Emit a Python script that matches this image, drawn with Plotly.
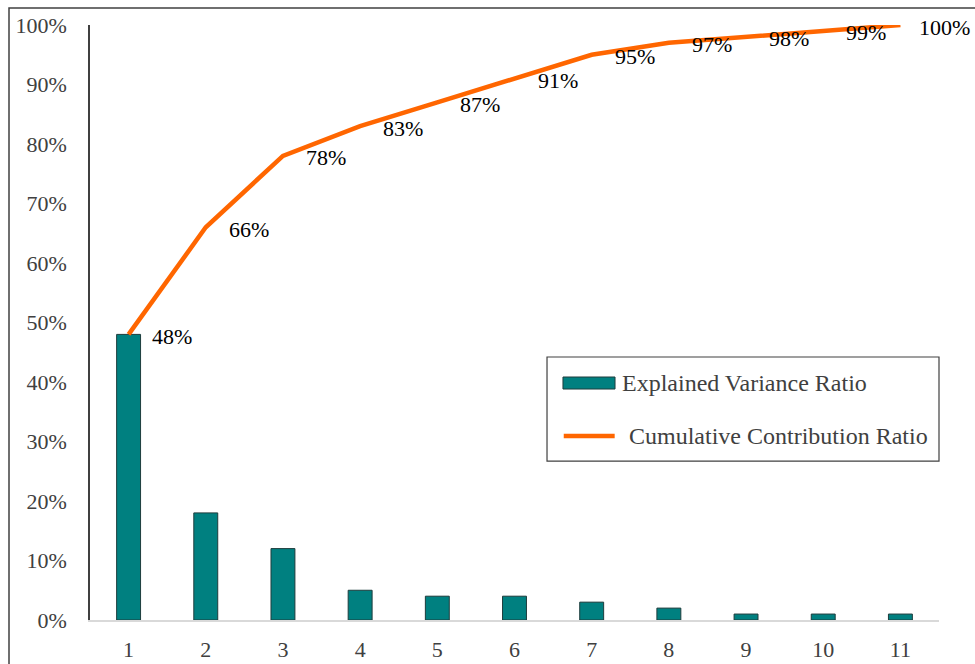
import plotly.graph_objects as go

components = [1, 2, 3, 4, 5, 6, 7, 8, 9, 10, 11]
explained = [0.48, 0.18, 0.12, 0.05, 0.04, 0.04, 0.03, 0.02, 0.01, 0.01, 0.01]
cumulative = [0.48, 0.66, 0.78, 0.83, 0.87, 0.91, 0.95, 0.97, 0.98, 0.99, 1.00]
cum_labels = ["48%", "66%", "78%", "83%", "87%", "91%", "95%", "97%", "98%", "99%", "100%"]
y_ticks = [0, 0.1, 0.2, 0.3, 0.4, 0.5, 0.6, 0.7, 0.8, 0.9, 1.0]
y_tick_labels = ["0%", "10%", "20%", "30%", "40%", "50%", "60%", "70%", "80%", "90%", "100%"]
legend_names = ["Explained Variance Ratio", "Cumulative Contribution Ratio"]

FONT = "Liberation Serif, Times New Roman, serif"
BAR_COLOR = "#008080"
LINE_COLOR = "#FF6600"

fig = go.Figure()
fig.add_trace(go.Bar(
    x=components, y=explained, name=legend_names[0],
    marker=dict(color=BAR_COLOR, line=dict(color="#1e3c3c", width=1)),
    width=0.31, showlegend=False,
))
fig.add_trace(go.Scatter(
    x=components, y=cumulative, name=legend_names[1],
    mode="lines", line=dict(color=LINE_COLOR, width=4.5),
    showlegend=False, cliponaxis=False,
))

for xv, yv, lab in zip(components, cumulative, cum_labels):
    fig.add_annotation(x=xv, y=yv, text=lab, showarrow=False,
                       xanchor="left", yanchor="middle",
                       xshift=17 if lab == "100%" else 21, yshift=-2,
                       font=dict(family=FONT, size=22, color="#000000"))

fig.update_layout(
    width=975, height=664,
    margin=dict(l=90, r=36, t=25, b=44),
    plot_bgcolor="white", paper_bgcolor="white",
    font=dict(family=FONT, size=22, color="#404040"),
    showlegend=False,
)

fig.update_xaxes(
    range=[0.5, 11.5], tickvals=components, ticktext=[str(c) for c in components],
    showline=True, linecolor="#d9d9d9", linewidth=1.5, showgrid=False,
    zeroline=False, ticks="", ticklabelstandoff=9, automargin=False,
)
fig.update_yaxes(
    range=[0, 1.0], tickvals=y_ticks, ticktext=y_tick_labels,
    showline=True, linecolor="#404040", linewidth=1.5, showgrid=False,
    zeroline=False, ticks="", ticklabelstandoff=17, automargin=False,
)

# outer frame
fig.add_shape(type="rect", xref="paper", yref="paper",
              x0=(9 - 90) / 849, x1=1.2, y0=-0.3, y1=(620 - 8) / 595,
              line=dict(color="#404040", width=1.5), layer="below")

# legend (drawn manually)
fig.add_shape(type="rect", xref="paper", yref="paper",
              x0=0.5383, x1=1.0, y0=0.267, y1=0.442,
              line=dict(color="#404040", width=1.2), fillcolor="white")
fig.add_shape(type="rect", xref="paper", yref="paper",
              x0=0.5571, x1=0.6184, y0=0.3882, y1=0.4084,
              line=dict(color="#1e3c3c", width=1), fillcolor=BAR_COLOR)
fig.add_shape(type="line", xref="paper", yref="paper",
              x0=0.5580, x1=0.6180, y0=0.3092, y1=0.3092,
              line=dict(color=LINE_COLOR, width=4.5))
fig.add_annotation(xref="paper", yref="paper", x=0.6243, y=0.3983,
                   text=legend_names[0], showarrow=False, xanchor="left", yanchor="middle",
                   font=dict(family=FONT, size=24, color="#404040"))
fig.add_annotation(xref="paper", yref="paper", x=0.6325, y=0.3092,
                   text=legend_names[1], showarrow=False, xanchor="left", yanchor="middle",
                   font=dict(family=FONT, size=24, color="#404040"))

fig.write_html("out.html")
